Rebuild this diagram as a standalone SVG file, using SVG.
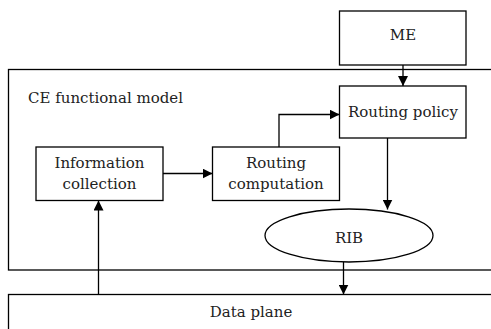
<svg xmlns="http://www.w3.org/2000/svg" width="491" height="329" viewBox="0 0 491 329">
<style>
.box{fill:#fff;stroke:#000;stroke-width:1.3}
.c{fill:none;stroke:#000;stroke-width:1.3}
</style>
<defs>
<marker id="ah" markerWidth="10" markerHeight="10" refX="10" refY="5" orient="auto" markerUnits="userSpaceOnUse">
<path d="M0,0 L10,5 L0,10 Z" fill="#000"/>
</marker>
</defs>
<rect width="491" height="329" fill="#fff"/>
<g font-family="DejaVu Serif, Liberation Serif, serif" font-size="15" fill="#222" text-anchor="middle">
<g id="ce">
<rect class="box" x="8.5" y="69.5" width="500" height="200.5"/>
<text x="105.5" y="103">CE functional model</text>
</g>
<g id="dataplane">
<rect class="box" x="8.5" y="294.5" width="500" height="50"/>
<text x="251" y="316.5">Data plane</text>
</g>
<g id="me">
<rect class="box" x="339.5" y="11" width="126.5" height="54"/>
<text x="403" y="40">ME</text>
</g>
<g id="routingpolicy">
<rect class="box" x="339.5" y="86" width="126.5" height="52"/>
<text x="403" y="117">Routing policy</text>
</g>
<g id="infocollection">
<rect class="box" x="36" y="147" width="127" height="53.5"/>
<text x="99.5" y="168">Information</text>
<text x="99.5" y="189">collection</text>
</g>
<g id="routingcomputation">
<rect class="box" x="212.5" y="147" width="127" height="53.5"/>
<text x="276" y="168">Routing</text>
<text x="276" y="189">computation</text>
</g>
<g id="rib">
<ellipse class="box" cx="349" cy="235.5" rx="84" ry="26.5"/>
<text x="349" y="243">RIB</text>
</g>
</g>
<g id="connectors">
<line class="c" x1="403" y1="65" x2="403" y2="86" marker-end="url(#ah)"/>
<line class="c" x1="163" y1="173.5" x2="212.5" y2="173.5" marker-end="url(#ah)"/>
<polyline class="c" points="279,147 279,114.5 339.5,114.5" marker-end="url(#ah)"/>
<line class="c" x1="387.5" y1="138" x2="387.5" y2="209.5" marker-end="url(#ah)"/>
<line class="c" x1="343.5" y1="262" x2="343.5" y2="294.5" marker-end="url(#ah)"/>
<line class="c" x1="98.5" y1="294.5" x2="98.5" y2="200.5" marker-end="url(#ah)"/>
</g>
</svg>
